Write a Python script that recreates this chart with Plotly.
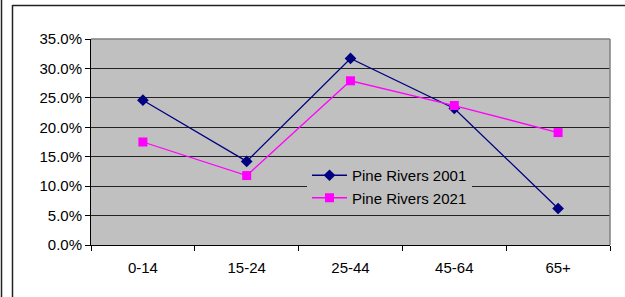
import plotly.graph_objects as go

categories = ["0-14", "15-24", "25-44", "45-64", "65+"]
pine_2001 = [0.246, 0.142, 0.317, 0.232, 0.062]
pine_2021 = [0.175, 0.118, 0.279, 0.237, 0.191]
y_ticks = [0, 0.05, 0.10, 0.15, 0.20, 0.25, 0.30, 0.35]

W, H = 625, 297
L, R, T, B = 91, 610, 39, 245

def px(x):
    return (x - L) / (R - L)

def py(y):
    return (B - y) / (B - T)

fig = go.Figure()
fig.add_trace(go.Scatter(
    x=categories, y=pine_2001, name="Pine Rivers 2001", mode="lines+markers",
    line=dict(color="#000080", width=1.3),
    marker=dict(symbol="diamond", size=9, color="#000080"),
))
fig.add_trace(go.Scatter(
    x=categories, y=pine_2021, name="Pine Rivers 2021", mode="lines+markers",
    line=dict(color="#ff00ff", width=1.3),
    marker=dict(symbol="square", size=9, color="#ff00ff"),
))

frame = "#222222"
shapes = [
    # outer chart frame
    dict(type="line", xref="paper", yref="paper", x0=px(12.5), x1=px(630), y0=py(5.5), y1=py(5.5),
         line=dict(color=frame, width=1.5)),
    dict(type="line", xref="paper", yref="paper", x0=px(12.5), x1=px(12.5), y0=py(5), y1=py(300),
         line=dict(color=frame, width=1.5)),
    dict(type="line", xref="paper", yref="paper", x0=px(1.5), x1=px(1.5), y0=py(0), y1=py(300),
         line=dict(color=frame, width=1.5)),
    # plot area grey border top/right
    dict(type="line", xref="paper", yref="paper", x0=0, x1=1, y0=1, y1=1,
         line=dict(color="#808080", width=1.5), layer="above"),
    dict(type="line", xref="paper", yref="paper", x0=1, x1=1, y0=0, y1=1,
         line=dict(color="#808080", width=1.5), layer="above"),
]

fig.update_layout(
    width=W, height=H,
    margin=dict(l=L, r=W - R, t=T, b=H - B),
    paper_bgcolor="white",
    plot_bgcolor="#c0c0c0",
    font=dict(family="Arial, Liberation Sans, sans-serif", size=15, color="black"),
    showlegend=True,
    legend=dict(
        x=px(307), y=py(159), xanchor="left", yanchor="top",
        bgcolor="#c0c0c0", borderwidth=0,
        font=dict(size=15), itemwidth=35, tracegroupgap=0,
    ),
    shapes=shapes,
    xaxis=dict(
        type="category", tickson="boundaries", ticks="outside", ticklen=5,
        tickcolor="black", showline=True, linecolor="black", linewidth=1,
        showgrid=False, range=[-0.5, 4.5], tickfont=dict(size=15),
        ticklabelstandoff=9,
    ),
    yaxis=dict(
        range=[0, 0.35], tickvals=y_ticks, tickformat=".1%",
        ticks="outside", ticklen=5, tickcolor="black",
        showline=True, linecolor="black", linewidth=1,
        showgrid=True, gridcolor="#222222", gridwidth=1, zeroline=False,
        tickfont=dict(size=15),
    ),
)

fig.write_html(
    "out.html",
    config={"displayModeBar": False},
    post_script="document.body.style.margin='0';document.body.style.overflow='hidden';",
)
